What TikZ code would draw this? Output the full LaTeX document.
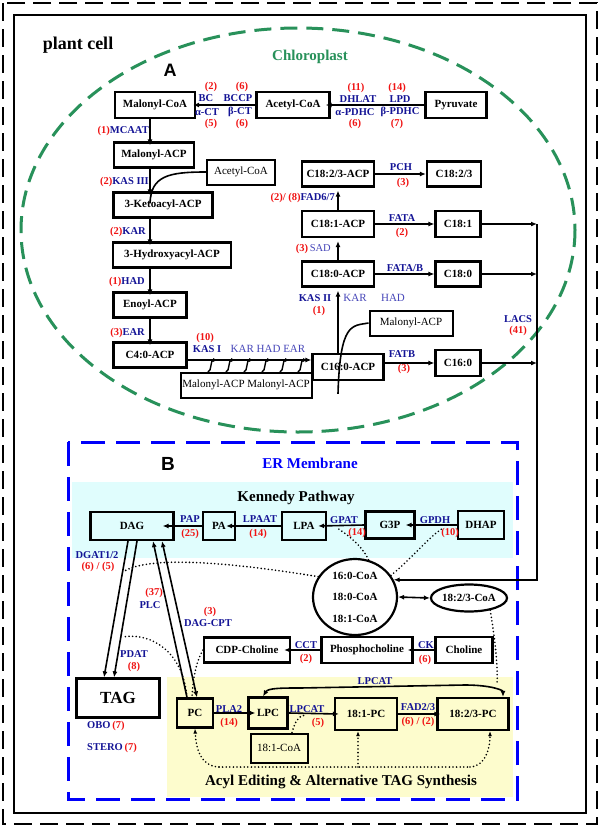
\documentclass[tikz,border=0pt]{standalone}
\usepackage{fontspec}
\setmainfont{Liberation Serif}
\newfontfamily\arialfont{Liberation Sans}
\usetikzlibrary{arrows.meta,shapes.geometric}

\definecolor{chlgreen}{RGB}{40,145,90}
\definecolor{erblue}{RGB}{0,0,250}
\definecolor{enzblue}{RGB}{20,20,150}
\definecolor{numred}{RGB}{240,20,20}
\definecolor{weakblue}{RGB}{70,70,185}
\definecolor{kennedybg}{RGB}{224,253,253}
\definecolor{acylbg}{RGB}{253,252,205}

\tikzset{
  wh/.style 2 args={minimum width=#1pt, minimum height=#2pt},
  box/.style={draw, line width=2.2pt, inner sep=1pt, font=\bfseries\fontsize{11}{13}\selectfont},
  plainbox/.style={box, line width=2pt, font=\fontsize{11}{13}\selectfont},
  enz/.style={text=enzblue, inner sep=0pt, font=\bfseries\fontsize{10.5}{12}\selectfont},
  num/.style={enz, text=numred},
  weak/.style={enz, text=weakblue, font=\fontsize{11}{12}\selectfont},
  title/.style={inner sep=0pt, font=\bfseries\fontsize{15}{17}\selectfont},
  flow/.style={line width=1.6pt, -{Latex[length=6pt,width=5pt]}},
  both/.style={line width=1.6pt, {Latex[length=6pt,width=5pt]}-{Latex[length=6pt,width=5pt]}},
  dots/.style={line width=1.8pt, dash pattern=on 0pt off 3.6pt, line cap=round},
}

\begin{document}
\begin{tikzpicture}[x=1pt, y=-1pt]
  \useasboundingbox (0,0) rectangle (600,827);
  \fill[white] (0,0) rectangle (600,827);
  % cell frames
  \draw[line width=2pt, dash pattern=on 18pt off 8pt] (3,3) rectangle (597,824);
  \draw[line width=2.6pt] (14,15) rectangle (586,813);
  \node[inner sep=0pt, font=\bfseries\fontsize{18}{20}\selectfont] (cell) at (78,45) {plant cell};

  % chloroplast (A)
  \draw[chlgreen, line width=3pt, dash pattern=on 17pt off 9pt] (298,230) ellipse [x radius=277, y radius=202];
  \node[title, text=chlgreen] (chl) at (310,57) {Chloroplast};
  \node[inner sep=0pt, font=\arialfont\bfseries\fontsize{18}{20}\selectfont] (labA) at (170,70) {A};

  \node[box, wh={80}{26}] (mcoa) at (155,105) {Malonyl-CoA};
  \node[box, wh={73}{26}] (acoa) at (293,105) {Acetyl-CoA};
  \node[box, wh={61}{26}] (pyr) at (456,105) {Pyruvate};
  \node[box, wh={80}{25}] (macp) at (154,155) {Malonyl-ACP};
  \node[plainbox, wh={68}{25}] (acoasm) at (241,172) {Acetyl-CoA};
  \node[box, wh={99}{25}] (keto) at (163,205) {3-Ketoacyl-ACP};
  \node[box, wh={118}{25}] (hydro) at (172,255) {3-Hydroxyacyl-ACP};
  \node[box, wh={73}{25}] (enoyl) at (150,305) {Enoyl-ACP};
  \node[box, wh={73}{25}] (cfour) at (150,355) {C4:0-ACP};
  \node[plainbox, wh={131}{25}] (malpair) at (246,385) {Malonyl-ACP Malonyl-ACP};
  \node[box, wh={71}{26}] (c16acp) at (348,367) {C16:0-ACP};
  \node[box, wh={45}{26}] (c16) at (458,363) {C16:0};
  \node[box, wh={72}{25}] (c18acp) at (338,274) {C18:0-ACP};
  \node[box, wh={45}{25}] (c18) at (458,274) {C18:0};
  \node[box, wh={72}{26}] (c181acp) at (338,224) {C18:1-ACP};
  \node[box, wh={45}{26}] (c181) at (458,224) {C18:1};
  \node[box, wh={72}{25}] (c183acp) at (338,174) {C18:2/3-ACP};
  \node[box, wh={54}{25}] (c183) at (454,174) {C18:2/3};
  \node[plainbox, wh={83}{25}] (malacp) at (411,323) {Malonyl-ACP};

  \draw[flow] (pyr.west) -- ([xshift=-5pt]acoa.east);
  \draw[flow] (acoa.west) -- ([xshift=-3pt]mcoa.east);
  \node[num] (n1) at (211,87) {(2)};
  \node[num] (n2) at (242,87) {(6)};
  \node[enz] (e1) at (206,98) {BC};
  \node[enz] (e2) at (238,98) {BCCP};
  \node[enz] (e3) at (207,112) {α-CT};
  \node[enz] (e4) at (240,112) {β-CT};
  \node[num] (n3) at (211,124) {(5)};
  \node[num] (n4) at (242,124) {(6)};
  \node[num] (n5) at (356,88) {(11)};
  \node[num] (n6) at (397,88) {(14)};
  \node[enz] (e5) at (358,99) {DHLAT};
  \node[enz] (e6) at (400,99) {LPD};
  \node[enz] (e7) at (355,112) {α-PDHC};
  \node[enz] (e8) at (400,112) {β-PDHC};
  \node[num] (n7) at (355,124) {(6)};
  \node[num] (n8) at (397,124) {(7)};

  % elongation column
  \draw[flow] (mcoa.south -| enoyl) -- ([yshift=-4pt]macp.north -| enoyl);
  \draw[flow] (macp.south -| enoyl) -- ([yshift=-4pt]keto.north -| enoyl);
  \draw[line width=1.6pt] (acoasm.west) .. controls (168,172) and (151,176) .. ([yshift=-12pt]keto.north -| enoyl);
  \draw[flow] (keto.south -| enoyl) -- ([yshift=-4pt]hydro.north -| enoyl);
  \draw[flow] (hydro.south -| enoyl) -- ([yshift=-4pt]enoyl.north);
  \draw[flow] (enoyl.south) -- ([yshift=-4pt]cfour.north);
  \node[enz, anchor=east] (lmcaat) at (149,131) {\textcolor{numred}{(1)}MCAAT};
  \node[enz, anchor=east] (lkas3) at (149,182) {\textcolor{numred}{(2)}KAS III};
  \node[enz, anchor=east] (lkar) at (146,232) {\textcolor{numred}{(2)}KAR};
  \node[enz, anchor=east] (lhad) at (145,282) {\textcolor{numred}{(1)}HAD};
  \node[enz, anchor=east] (lear) at (145,333) {\textcolor{numred}{(3)}EAR};

  \draw[flow] ([yshift=-5pt]cfour.east) -- ([yshift=-5pt]cfour.east -| c16acp.west);
  \foreach \hx in {208,226,244,262,280,298}
    \draw[line width=1.4pt, -{Latex[length=5pt,width=4pt]}] (\hx,372) .. controls (\hx+4,371) and (\hx+2,360) .. (\hx+10,360);
  \node[num] (n10) at (205,338) {(10)};
  \node[enz] (kas1) at (207,349) {KAS I};
  \node[weak] (karhad) at (268,349) {KAR HAD EAR};

  % desaturation / thioesterases
  \draw[flow] (c16acp.north -| c18acp) -- ([yshift=-3pt]c18acp.south);
  \draw[flow] (c18acp.north) -- ([yshift=-3pt]c181acp.south);
  \draw[flow] (c181acp.north) -- ([yshift=-3pt]c183acp.south);
  \draw[line width=1.6pt] (malacp.west) .. controls (352,326) and (340,322) .. ([yshift=-41pt]c16acp.north -| c18acp);
  \draw[flow] (c183acp.east) -- (c183.west);
  \draw[flow] (c181acp.east) -- (c181.west);
  \draw[flow] (c18acp.east) -- (c18.west);
  \draw[flow] (c16acp.east |- c16) -- (c16.west);
  \node[enz] (pch) at (401,167) {PCH};
  \node[num] (n11) at (403,183) {(3)};
  \node[enz, anchor=east] (lfad) at (335,198) {\textcolor{numred}{(2)/ (8)}FAD6/7};
  \node[enz] (fata) at (402,218) {FATA};
  \node[num] (n12) at (402,233) {(2)};
  \node[enz, anchor=east] (lsad) at (331,249) {\textcolor{numred}{(3)}\,\textcolor{weakblue}{\mdseries SAD}};
  \node[enz] (fatab) at (405,268) {FATA/B};
  \node[enz] (kas2) at (315,298) {KAS II};
  \node[num] (n13) at (319,311) {(1)};
  \node[weak] (kar2) at (355,298) {KAR};
  \node[weak] (had2) at (393,298) {HAD};
  \node[enz] (fatb) at (402,354) {FATB};
  \node[num] (n14) at (404,369) {(3)};
  \node[enz] (lacs) at (518,319) {LACS};
  \node[num] (n15) at (518,331) {(41)};

  % ER membrane (B)
  \fill[kennedybg] (72,482) rectangle (513,558);
  \fill[acylbg] (167,677) rectangle (513,797);
  \draw[erblue, line width=3pt, dash pattern=on 24pt off 11pt] (68,442) rectangle (517,799);
  \node[inner sep=0pt, font=\arialfont\bfseries\fontsize{19}{21}\selectfont] (labB) at (168,464) {B};
  \node[title, text=erblue] (er) at (310,463) {ER Membrane};
  \node[title] (kenn) at (296,498) {Kennedy Pathway};
  \node[title] (acyl) at (341,782) {Acyl Editing \& Alternative TAG Synthesis};

  \node[box, wh={83}{28}] (dag) at (132,526) {DAG};
  \node[box, wh={32}{28}] (pa) at (219,526) {PA};
  \node[box, wh={44}{28}] (lpa) at (304,526) {LPA};
  \node[box, wh={49}{27}] (gtp) at (390,525) {G3P};
  \node[box, wh={46}{28}] (dhap) at (481,525) {DHAP};
  \node[box, ellipse, inner sep=0pt, wh={84}{76}, align=center, font=\bfseries\fontsize{11}{21.5}\selectfont] (coa) at (355,597) {16:0-CoA\\18:0-CoA\\18:1-CoA};
  \node[box, ellipse, inner sep=0pt, wh={72}{27}] (coaus) at (469,598) {18:2/3-CoA};
  \node[box, wh={57}{26}] (chol) at (464,650) {Choline};
  \node[box, wh={91}{26}] (phos) at (367,650) {Phosphocholine};
  \node[box, wh={86}{25}] (cdp) at (247,650) {CDP-Choline};
  \node[box, wh={83}{39}, font=\bfseries\fontsize{17}{19}\selectfont] (tag) at (118,698) {TAG};
  \node[box, wh={36}{29}] (pc) at (195,713) {PC};
  \node[box, wh={39}{31}] (lpc) at (268,713) {LPC};
  \node[box, wh={62}{32}] (opc) at (366,714) {18:1-PC};
  \node[box, wh={71}{32}] (tpc) at (473,714) {18:2/3-PC};
  \node[plainbox, wh={57}{29}] (ocoa) at (279,748) {18:1-CoA};

  \draw[flow] (dhap.west) -- ([xshift=-10pt]gtp.east);
  \draw[flow] (gtp.west) -- ([xshift=-9pt]lpa.east);
  \draw[flow] (lpa.west) -- ([xshift=-10pt]pa.east);
  \draw[flow] (pa.west) -- ([xshift=-12pt]dag.east);
  \node[enz] (pap) at (190,519) {PAP};
  \node[num] (n20) at (190,534) {(25)};
  \node[enz] (lpaat) at (260,519) {LPAAT};
  \node[num] (n21) at (258,534) {(14)};
  \node[enz] (gpat) at (344,520) {GPAT};
  \node[num] (n22) at (357,533) {(14)};
  \node[enz] (gpdh) at (435,520) {GPDH};
  \node[num] (n23) at (450,533) {(10)};

  % acyl-CoA pool
  \draw[flow] (537,224) |- (coa.24);
  \draw[flow] (c181.east) -- (c181.east -| 537,0);
  \draw[flow] (c18.east) -- (c18.east -| 537,0);
  \draw[flow] (c16.east) -- (c16.east -| 537,0);
  \draw[both] (coa.east) -- (coaus.west);
  \coordinate (gpatpt) at (337,528);
  \coordinate (gpdhpt) at (443,528);
  \coordinate (dgatpt) at (123,572);
  \draw[dots] (coa.70) .. controls (362,545) and (345,533) .. (gpatpt);
  \draw[dots] (coa.31) .. controls (410,560) and (430,536) .. (gpdhpt);
  \draw[dots] (coa.151) .. controls (240,564) and (150,554) .. (dgatpt);

  % choline branch
  \draw[flow] (chol.west) -- ([xshift=-6pt]phos.east);
  \draw[flow] (phos.west) -- ([xshift=-7pt]cdp.east);
  \node[enz] (ck) at (426,645) {CK};
  \node[num] (n24) at (425,660) {(6)};
  \node[enz] (cct) at (306,645) {CCT};
  \node[num] (n25) at (306,659) {(2)};

  % TAG assembly
  \draw[flow] ([xshift=-4pt]dag.south) -- ([xshift=-14pt]tag.north);
  \draw[flow] ([xshift=5pt]dag.south) -- ([xshift=-4pt]tag.north);
  \draw[flow] ([xshift=-8pt]pc.north) -- ([xshift=21pt]dag.south);
  \draw[both] ([xshift=30pt]dag.south) -- ([xshift=2pt]pc.north);
  \coordinate (pdatpt) at (122,637);
  \draw[dots] ([xshift=-8pt]pc.north) .. controls (183,652) and (152,632) .. (pdatpt);
  \draw[dots] (cdp.west) .. controls (197,660) and (193,676) .. ([xshift=-3pt]pc.north);
  \node[enz] (dgat) at (97,555) {DGAT1/2};
  \node[num] (n26) at (98,567) {(6) / (5)};
  \node[num] (n27) at (154,593) {(37)};
  \node[enz] (plc) at (150,605) {PLC};
  \node[num] (n28) at (210,612) {(3)};
  \node[enz] (cpt) at (208,623) {DAG-CPT};
  \node[enz] (pdat) at (134,654) {PDAT};
  \node[num] (n29) at (134,667) {(8)};
  \node[enz, anchor=west] (obo) at (87,726) {OBO\,\textcolor{numred}{(7)}};
  \node[enz, anchor=west] (stero) at (87,748) {STERO\,\textcolor{numred}{(7)}};

  % acyl editing
  \draw[flow] (pc.east) -- ([xshift=8pt]lpc.west);
  \draw[flow] (lpc.east) -- ([xshift=5pt]opc.west);
  \draw[flow] (opc.east) -- ([xshift=4pt]tpc.west);
  \draw[both] ([xshift=-5pt]lpc.north) .. controls (268,688) and (282,688) .. (300,688) -- (465,685) .. controls (490,685) and (503,690) .. ([xshift=30pt]tpc.north);
  \node[enz] (lpcat1) at (375,681) {LPCAT};
  \node[enz] (pla2) at (229,709) {PLA2};
  \node[num] (n30) at (229,723) {(14)};
  \node[enz] (lpcat2) at (307,709) {LPCAT};
  \node[num] (n31) at (318,723) {(5)};
  \node[enz] (fad23) at (418,707) {FAD2/3};
  \node[num] (n32) at (418,722) {(6) / (2)};
  \coordinate (lpcatpt) at (305,715);
  \coordinate (fadpt) at (497,684);
  \draw[dots] ([xshift=13pt]ocoa.north) .. controls (295,722) and (298,716) .. (lpcatpt);
  \draw[dots] (coaus.330) .. controls (495,640) and (498,665) .. (fadpt);
  \coordinate (loopl) at (219,767);
  \coordinate (loopr) at (470,767);
  \draw[dots] (loopl) -- (loopr);
  \draw[dots, -{Latex[length=5pt,width=4pt]}] (loopl) .. controls (200,766) and (196,748) .. (pc.south);
  \draw[dots, -{Latex[length=5pt,width=4pt]}] (loopr) .. controls (486,766) and (490,748) .. ([xshift=17pt]tpc.south);
  \draw[dots, -{Latex[length=5pt,width=4pt]}] ([xshift=-8pt]opc.south |- loopl) -- ([xshift=-8pt]opc.south);
\end{tikzpicture}
\end{document}
